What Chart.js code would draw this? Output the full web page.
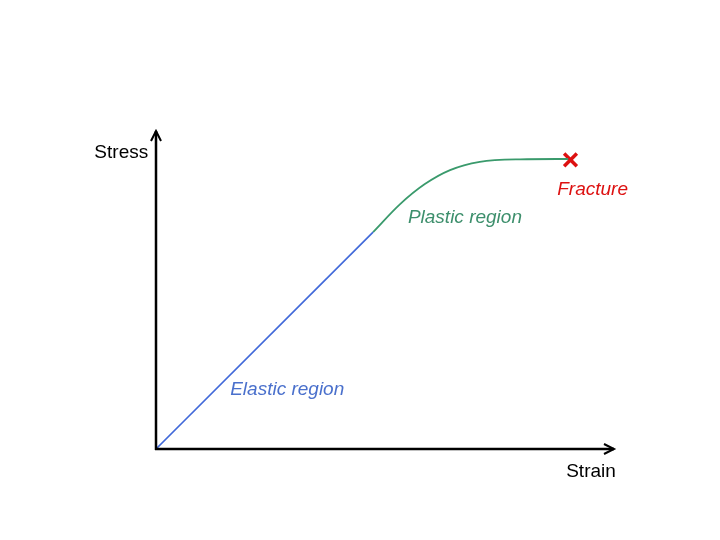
<!DOCTYPE html>
<html>
<head>
<meta charset="utf-8">
<script src="https://cdn.jsdelivr.net/npm/chart.js@4/dist/chart.umd.min.js"></script>
<style>
html,body{margin:0;padding:0;background:#fff;}
#wrap{width:720px;height:540px;}
</style>
</head>
<body>
<div id="wrap"><canvas id="c" width="720" height="540"></canvas></div>
<script>
// Data (strain / stress, arbitrary units 0-100)
const elasticStrain = [0, 47.4];
const elasticStress = [0, 68.2];
const plasticStrain = [47.4, 53.3, 58.7, 64.2, 70.7, 79.5, 90.0];
const plasticStress = [68.2, 77.0, 83.3, 87.7, 90.3, 91.1, 91.2];
const fractureStrain = [90.5];
const fractureStress = [90.9];
const axisTitles = ["Strain", "Stress"];
const regionLabels = ["Elastic region", "Plastic region", "Fracture"];

const toPts = (xs, ys) => xs.map((x, i) => ({x: x, y: ys[i]}));

const BLUE = '#4169d9', GREEN = '#3a9a6c', RED = '#dd1111';
const BLUE_T = '#4a70cc', GREEN_T = '#3d8f6c';
const FONT = '"Liberation Sans", Arial, sans-serif';

const annot = {
  id: 'annot',
  afterDatasetsDraw(chart) {
    const {ctx, scales: {x, y}} = chart;
    const x0 = x.getPixelForValue(0), y0 = y.getPixelForValue(0);
    const xEnd = x.getPixelForValue(100), yEnd = y.getPixelForValue(100);
    ctx.save();
    ctx.strokeStyle = '#000';
    ctx.lineWidth = 2.5;
    ctx.lineCap = 'butt';
    ctx.beginPath();
    ctx.moveTo(x0 - 1, y0); ctx.lineTo(xEnd, y0);
    ctx.moveTo(x0, y0 + 1); ctx.lineTo(x0, yEnd);
    ctx.stroke();
    // arrowheads
    ctx.lineWidth = 2;
    ctx.beginPath();
    ctx.moveTo(xEnd - 10, y0 - 5); ctx.lineTo(xEnd, y0); ctx.lineTo(xEnd - 10, y0 + 5);
    ctx.moveTo(x0 - 5, yEnd + 10); ctx.lineTo(x0, yEnd); ctx.lineTo(x0 + 5, yEnd + 10);
    ctx.stroke();
    // axis titles
    ctx.fillStyle = '#000';
    ctx.font = '19px ' + FONT;
    ctx.textBaseline = 'middle';
    ctx.textAlign = 'right';
    ctx.fillText(axisTitles[0], x.getPixelForValue(100.4), y.getPixelForValue(-7.2));
    ctx.fillText(axisTitles[1], x.getPixelForValue(-1.7), y.getPixelForValue(93.0));
    // region labels
    ctx.textAlign = 'left';
    ctx.font = 'italic 19px ' + FONT;
    ctx.fillStyle = BLUE_T;
    ctx.fillText(regionLabels[0], x.getPixelForValue(16.2), y.getPixelForValue(18.6));
    ctx.fillStyle = GREEN_T;
    ctx.fillText(regionLabels[1], x.getPixelForValue(55.0), y.getPixelForValue(72.7));
    ctx.fillStyle = RED;
    ctx.fillText(regionLabels[2], x.getPixelForValue(87.6), y.getPixelForValue(81.5));
    ctx.restore();
  }
};

new Chart(document.getElementById('c'), {
  type: 'scatter',
  data: {
    datasets: [
      {data: toPts(elasticStrain, elasticStress), showLine: true, borderColor: BLUE, borderWidth: 1.7, pointRadius: 0, clip: false},
      {data: toPts(plasticStrain, plasticStress), showLine: true, borderColor: GREEN, borderWidth: 1.8, pointRadius: 0, cubicInterpolationMode: 'monotone', clip: false},
      {data: toPts(fractureStrain, fractureStress), showLine: false, pointStyle: 'crossRot', pointRadius: 9, borderColor: RED, borderWidth: 3.5, clip: false}
    ]
  },
  options: {
    responsive: false,
    animation: false,
    layout: {padding: {left: 156, right: 106, top: 131, bottom: 91}},
    plugins: {legend: {display: false}, tooltip: {enabled: false}},
    scales: {
      x: {type: 'linear', min: 0, max: 100, display: false},
      y: {type: 'linear', min: 0, max: 100, display: false}
    }
  },
  plugins: [annot]
});
</script>
</body>
</html>
